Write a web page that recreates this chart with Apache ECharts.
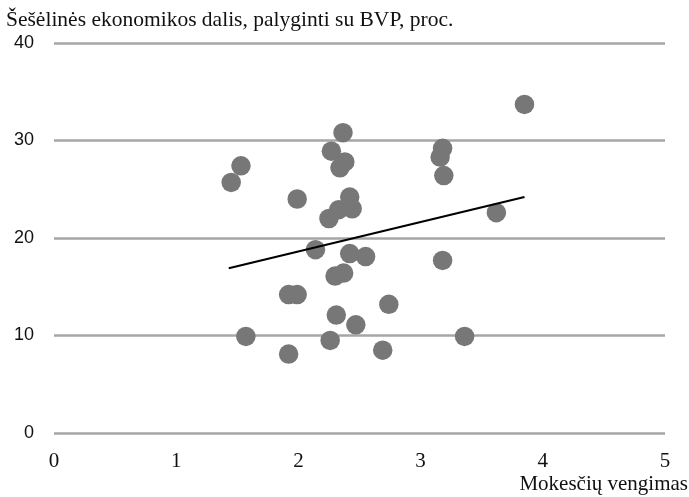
<!DOCTYPE html>
<html><head><meta charset="utf-8">
<script src="https://cdn.jsdelivr.net/npm/echarts@6/dist/echarts.min.js"></script>
<style>html,body{margin:0;padding:0;background:#fff}#c{width:689px;height:497px}</style>
</head><body><div id="c"></div>
<script>
const xVals = [1.45,1.53,1.57,1.92,1.92,1.99,1.99,2.14,2.25,2.26,2.27,2.30,2.31,2.34,2.365,2.33,2.37,2.38,2.42,2.42,2.44,2.47,2.55,2.69,2.74,3.16,3.18,3.19,3.18,3.36,3.62,3.85];
const yVals = [25.7,27.4,9.9,8.1,14.2,14.2,24.0,18.8,22.0,9.5,28.9,16.1,12.1,27.2,30.8,22.9,16.4,27.8,24.2,18.4,23.0,11.1,18.1,8.5,13.2,28.3,29.2,26.4,17.7,9.9,22.6,33.7];
const trendX = [1.43, 3.85];
const trendY = [16.9, 24.2];
const yTitle = 'Šešėlinės ekonomikos dalis, palyginti su BVP, proc.';
const xTitle = 'Mokesčių vengimas';

const serif = 'Liberation Serif';
const sans = 'Liberation Sans';
const chart = echarts.init(document.getElementById('c'), null, {renderer:'canvas'});
chart.setOption({
  animation:false,
  backgroundColor:'#fff',
  title:[
    {text:yTitle,left:1,top:4,textStyle:{fontFamily:serif,fontSize:21.5,fontWeight:'normal',color:'#111'}},
    {text:xTitle,right:1,top:474,padding:0,textStyle:{fontFamily:serif,fontSize:21,fontWeight:'normal',color:'#111'}}
  ],
  grid:{left:54,right:24,top:43,bottom:64,containLabel:false},
  xAxis:{type:'value',min:0,max:5,interval:1,
    axisLine:{show:false},axisTick:{show:false},splitLine:{show:false},
    axisLabel:{fontFamily:serif,fontSize:21,color:'#111',margin:18}},
  yAxis:{type:'value',min:0,max:40,interval:10,
    axisLine:{show:false},axisTick:{show:false},
    splitLine:{show:true,lineStyle:{color:'#a6a6a6',width:2.5}},
    axisLabel:{fontFamily:sans,fontSize:18,color:'#111',margin:20}},
  series:[
    {type:'scatter',data:xVals.map((x,i)=>[x,yVals[i]]),symbolSize:19.5,
     itemStyle:{color:'#777777',opacity:1}},
    {type:'line',data:trendX.map((x,i)=>[x,trendY[i]]),symbol:'none',
     lineStyle:{color:'#000',width:2.2}}
  ]
});
</script></body></html>
